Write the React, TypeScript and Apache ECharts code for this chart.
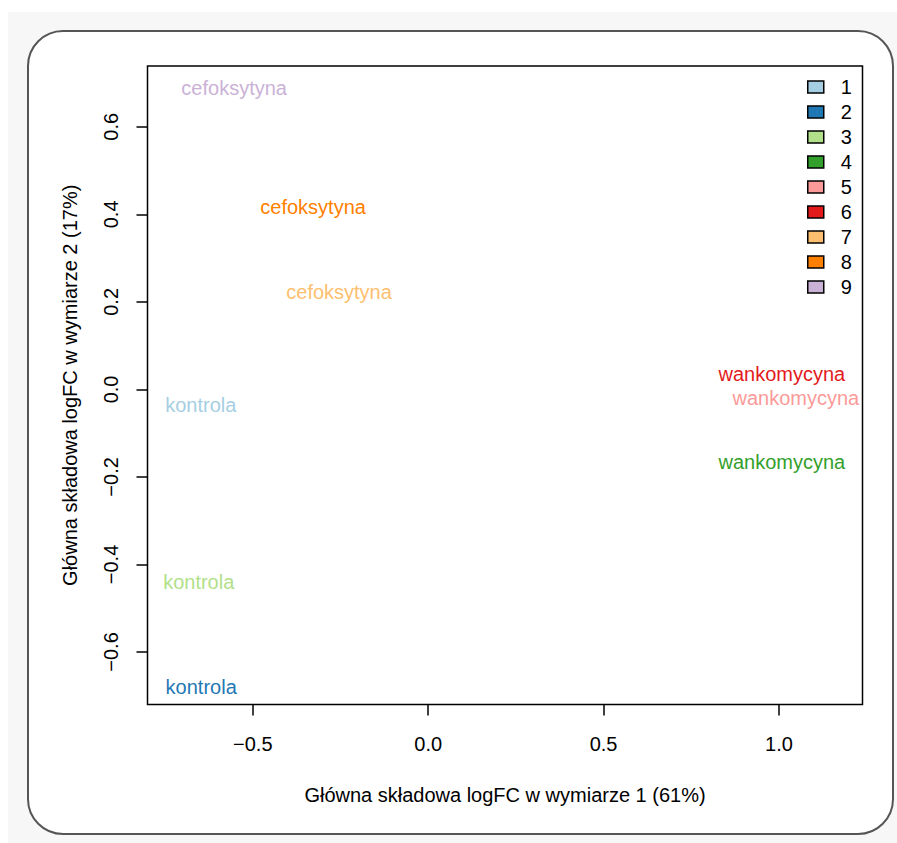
import React, { useEffect, useRef } from "react";
import * as echarts from "echarts";

// MDS coordinates of the nine samples (dimension 1 / dimension 2)
const groups = ["1", "2", "3", "4", "5", "6", "7", "8", "9"];
const sampleLabels = [
  "kontrola",
  "kontrola",
  "kontrola",
  "wankomycyna",
  "wankomycyna",
  "wankomycyna",
  "cefoksytyna",
  "cefoksytyna",
  "cefoksytyna",
];
const dim1 = [-0.648, -0.647, -0.654, 1.008, 1.048, 1.008, -0.254, -0.328, -0.553];
const dim2 = [-0.035, -0.68, -0.44, -0.166, -0.019, 0.035, 0.223, 0.417, 0.688];
const palette = [
  "#A6CEE3",
  "#1F78B4",
  "#B2DF8A",
  "#33A02C",
  "#FB9A99",
  "#E31A1C",
  "#FDBF6F",
  "#FF7F00",
  "#CAB2D6",
];
const xTicks = [-0.5, 0, 0.5, 1.0];
const yTicks = [-0.6, -0.4, -0.2, 0, 0.2, 0.4, 0.6];

const FONT = "'Liberation Sans', Arial, Helvetica, sans-serif";
const W = 889;
const H = 835;

const fmt = (v: number) => {
  const s = v.toFixed(1);
  return s.startsWith("-") ? "\u2212" + s.slice(1) : s;
};

export default function App() {
  const ref = useRef<HTMLDivElement>(null);

  useEffect(() => {
    if (!ref.current) return;
    const chart = echarts.init(ref.current, null, { renderer: "svg" });

    const series = groups.map((g, i) => ({
      type: "scatter",
      name: g,
      symbol: "rect",
      symbolSize: 0,
      clip: false,
      itemStyle: { color: palette[i], opacity: 1 },
      label: {
        show: true,
        position: "inside",
        formatter: sampleLabels[i],
        color: palette[i],
        opacity: 1,
        fontSize: 20,
        fontFamily: FONT,
      },
      emphasis: { disabled: true },
      data: [[dim1[i], dim2[i]]],
    }));

    const tickStyle = { color: "#000", width: 1.5 };

    chart.setOption({
      animation: false,
      textStyle: { fontFamily: FONT },
      graphic: [
        {
          type: "rect",
          silent: true,
          z: -10,
          shape: { x: 0, y: 4, width: W, height: H - 4 },
          style: { fill: "#f7f7f7" },
        },
        {
          type: "rect",
          silent: true,
          z: -9,
          shape: { x: 20, y: 23, width: 865, height: 803, r: 35 },
          style: { fill: "#ffffff", stroke: "#555555", lineWidth: 2 },
        },
      ],
      grid: {
        left: 139.5,
        top: 58,
        right: 34.5,
        bottom: 138.5,
        show: true,
        borderColor: "#000",
        borderWidth: 1.5,
        backgroundColor: "transparent",
      },
      legend: {
        orient: "vertical",
        left: 799,
        top: 69,
        padding: 0,
        itemWidth: 16,
        itemHeight: 12,
        itemGap: 5,
        icon: "rect",
        selectedMode: false,
        itemStyle: { borderColor: "#000", borderWidth: 1.5, opacity: 1 },
        textStyle: {
          fontSize: 20,
          lineHeight: 20,
          color: "#000",
          fontFamily: FONT,
          padding: [0, 0, 0, 12],
        },
        data: groups,
      },
      xAxis: {
        type: "value",
        min: -0.8,
        max: 1.238,
        name: "Główna składowa logFC w wymiarze 1 (61%)",
        nameLocation: "middle",
        nameGap: 80,
        nameTextStyle: { fontSize: 20, color: "#000", fontFamily: FONT },
        splitLine: { show: false },
        axisLine: { show: false, onZero: false },
        axisTick: {
          show: true,
          length: 11,
          lineStyle: tickStyle,
          customValues: xTicks,
        },
        axisLabel: {
          fontSize: 20,
          color: "#000",
          margin: 29,
          fontFamily: FONT,
          customValues: xTicks,
          formatter: (v: number) => fmt(v),
        },
      },
      yAxis: {
        type: "value",
        min: -0.72,
        max: 0.739,
        name: "Główna składowa logFC w wymiarze 2 (17%)",
        nameLocation: "middle",
        nameGap: 68,
        nameTextStyle: { fontSize: 20, color: "#000", fontFamily: FONT },
        splitLine: { show: false },
        axisLine: { show: false, onZero: false },
        axisTick: {
          show: true,
          length: 11,
          lineStyle: tickStyle,
          customValues: yTicks,
        },
        axisLabel: {
          fontSize: 20,
          color: "#000",
          margin: 27,
          rotate: 90,
          fontFamily: FONT,
          customValues: yTicks,
          formatter: (v: number) => fmt(v),
        },
      },
      series,
    });

    return () => chart.dispose();
  }, []);

  return (
    <div
      ref={ref}
      style={{ position: "absolute", left: 8, top: 8, width: W, height: H }}
    />
  );
}
